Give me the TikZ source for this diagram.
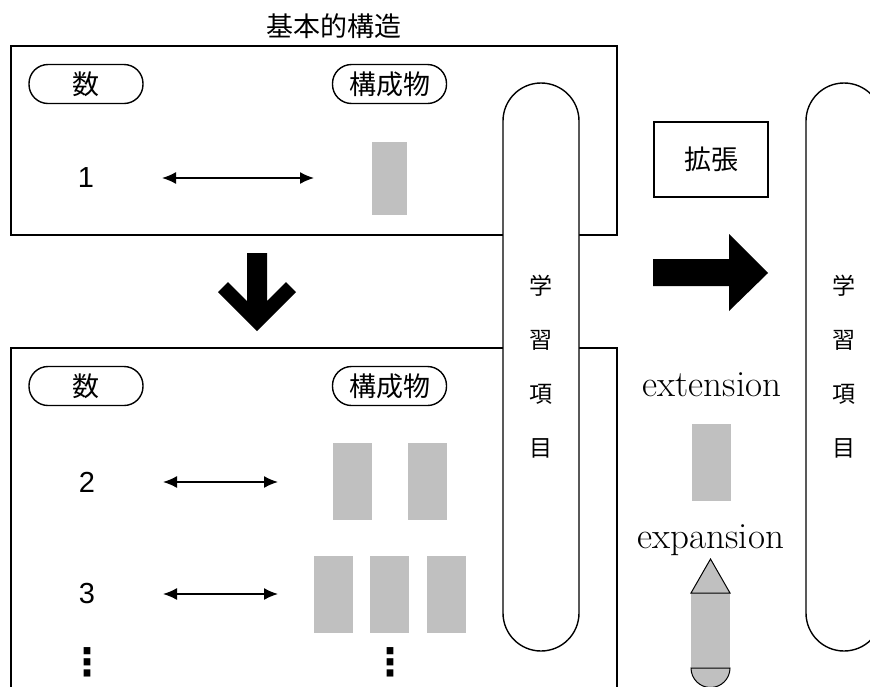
\documentclass[tikz,border=0pt]{standalone}
\usepackage{fontspec}
\newfontfamily\cjk{Noto Sans CJK JP}
\newfontfamily\arialfont{Liberation Sans}
\newfontfamily\dejavu{DejaVu Sans Bold}
\usetikzlibrary{arrows.meta}
\definecolor{blockgray}{RGB}{192,192,192}
\begin{document}
\begin{tikzpicture}[x=1pt,y=-1pt,
  frame/.style={draw=black, line width=1.4pt},
  smallpill/.style={draw, line width=1.4pt, rounded corners=19pt, minimum width=114pt, minimum height=39pt, inner sep=0pt, font=\cjk\fontsize{27}{30}\selectfont},
  tallpill/.style={draw, fill=white, line width=1.4pt, rounded corners=38pt, minimum width=76pt, minimum height=568pt, inner sep=0pt, align=center, font=\cjk\fontsize{23}{54}\selectfont},
  block/.style={fill=blockgray, inner sep=0pt, minimum width=39pt, minimum height=77pt},
  numtext/.style={font=\arialfont\fontsize{29}{32}\selectfont, inner sep=0pt},
  cjktext/.style={font=\cjk\fontsize{27}{30}\selectfont, inner sep=0pt},
  dotstext/.style={font=\dejavu\fontsize{38}{42}\selectfont, inner sep=0pt},
  engtext/.style={font=\fontsize{37}{42}\selectfont, inner sep=0pt},
  dblarrow/.style={{Latex[length=14pt,width=12pt]}-{Latex[length=14pt,width=12pt]}, line width=1.6pt}
]
\useasboundingbox (0,0) rectangle (870,686);
\clip (0,0) rectangle (870,686);

% title
\node[cjktext] (title) at (334,26) {基本的構造};

% frames
\draw[frame] (11,46) rectangle (617,235);
\draw[frame] (11,348) rectangle (617,700);

% top box content
\node[smallpill] (kazu1) at (86,84) {数};
\node[smallpill] (kousei1) at (389.5,84) {構成物};
\node[numtext] (n1) at (86,178) {1};
\node[block, minimum width=35pt, minimum height=73pt] (b1) at (389.5,178.5) {};
\coordinate (a1l) at (162,178);
\coordinate (a1r) at (314,178);
\draw[dblarrow] (a1l) -- (a1r);

% down arrow
\fill (247,253) -- (267,253) -- (267,301) -- (286,282) -- (296,292) -- (257,331) -- (218,292) -- (228,282) -- (247,301) -- cycle;

% lower box content
\node[smallpill] (kazu2) at (86,386) {数};
\node[smallpill] (kousei2) at (389.5,386) {構成物};
\node[numtext] (n2) at (87,482) {2};
\node[numtext] (n3) at (87,594) {3};
\node[dotstext] (d1) at (87,662) {⋮};
\node[dotstext] (d2) at (390,662) {⋮};
\coordinate (a2l) at (163,482);
\coordinate (a2r) at (278,482);
\coordinate (a3l) at (163,594);
\coordinate (a3r) at (278,594);
\draw[dblarrow] (a2l) -- (a2r);
\draw[dblarrow] (a3l) -- (a3r);
\node[block] (b21) at (352,481) {};
\node[block] (b22) at (427.5,481) {};
\node[block] (b31) at (333,594.5) {};
\node[block] (b32) at (389.5,594.5) {};
\node[block] (b33) at (446.5,594.5) {};

% tall pills
\node[tallpill] (pillL) at (541,367) {学\\習\\項\\目};
\node[tallpill] (pillR) at (844,367) {学\\習\\項\\目};

% extension box
\node[draw, line width=1.4pt, minimum width=114pt, minimum height=75pt, inner sep=0pt, font=\cjk\fontsize{27}{30}\selectfont] (kakuchou) at (711,159.5) {拡張};

% right arrow
\fill (653,259) -- (729,259) -- (729,234) -- (768,273) -- (729,311) -- (729,286) -- (653,286) -- cycle;

% extension / expansion
\node[engtext] (ext) at (712,385) {extension};
\node[block] (bext) at (711.5,462.5) {};
\node[engtext] (exp) at (711,540) {expansion};

% pencil shape
\fill[blockgray] (691,593) rectangle (730,668);
\draw[fill=blockgray, line width=1pt] (710.5,559) -- (730,593) -- (691,593) -- cycle;
\draw[fill=blockgray, line width=1pt] (691,668) -- (730,668) arc[start angle=0, end angle=-180, radius=19.5pt] -- cycle;
\end{tikzpicture}
\end{document}
